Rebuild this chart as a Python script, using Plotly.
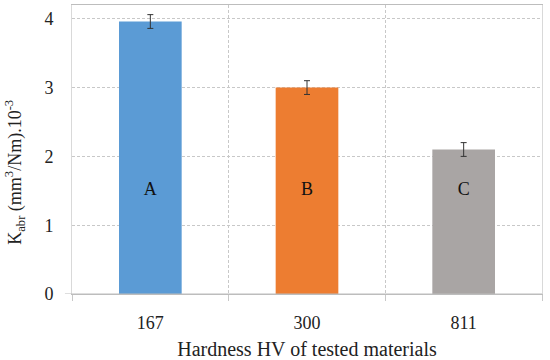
import plotly.graph_objects as go

categories = ["167", "300", "811"]
values = [3.96, 3.00, 2.10]
errors = [0.10, 0.10, 0.10]
bar_labels = ["A", "B", "C"]
label_y = [1.5, 1.5, 1.5]
colors = ["#5B9BD5", "#ED7D31", "#A9A5A4"]

FONT = "Liberation Serif, Times New Roman, serif"

fig = go.Figure()
fig.add_trace(go.Bar(
    x=categories, y=values,
    marker=dict(color=colors, line=dict(width=0)),
    width=0.4,
    error_y=dict(type="data", array=errors, color="#333333", thickness=1, width=3),
    showlegend=False,
))
fig.add_trace(go.Scatter(
    x=categories, y=label_y, text=bar_labels, mode="text",
    textfont=dict(family=FONT, size=18, color="#111111"),
    showlegend=False, hoverinfo="skip",
))

fig.update_layout(
    width=550, height=360,
    margin=dict(l=72, r=8, t=5, b=66),
    paper_bgcolor="white", plot_bgcolor="white",
    font=dict(family=FONT, size=18, color="#222222"),
)
fig.update_xaxes(
    type="category",
    range=[-0.5, 2.5],
    automargin=False,
    tickson="boundaries",
    showgrid=True, gridcolor="#C8C8C8", griddash="3px,2px", gridwidth=1,
    ticks="outside", ticklen=6, tickcolor="#C8C8C8",
    showline=True, linecolor="#BDBDBD", linewidth=1, mirror=True,
    tickfont=dict(family=FONT, size=18), ticklabelstandoff=12,
    title=dict(text="Hardness HV of tested materials", font=dict(family=FONT, size=20), standoff=10),
)
fig.update_yaxes(
    range=[0, 4.2],
    automargin=False,
    tickvals=[0, 1, 2, 3, 4],
    showgrid=True, gridcolor="#C8C8C8", griddash="3px,2px", gridwidth=1,
    showline=True, linecolor="#D9D9D9", linewidth=1, mirror=True,
    zeroline=False,
    ticks="", ticklabelstandoff=14,
    tickfont=dict(family=FONT, size=18),
)
fig.add_annotation(
    xref="paper", yref="paper", x=-0.121, y=0.42,
    xanchor="center", yanchor="middle", textangle=-90, showarrow=False,
    text="K<sub>abr</sub> (mm<sup>3</sup>/Nm).10<sup>-3</sup>",
    font=dict(family=FONT, size=18, color="#222222"),
)
fig.add_shape(type="line", xref="paper", yref="y", x0=-0.015, x1=1, y0=0, y1=0,
              line=dict(color="#BDBDBD", width=1))

fig.write_html("out.html", config={"displayModeBar": False},
               post_script="document.body.style.margin='0';")
